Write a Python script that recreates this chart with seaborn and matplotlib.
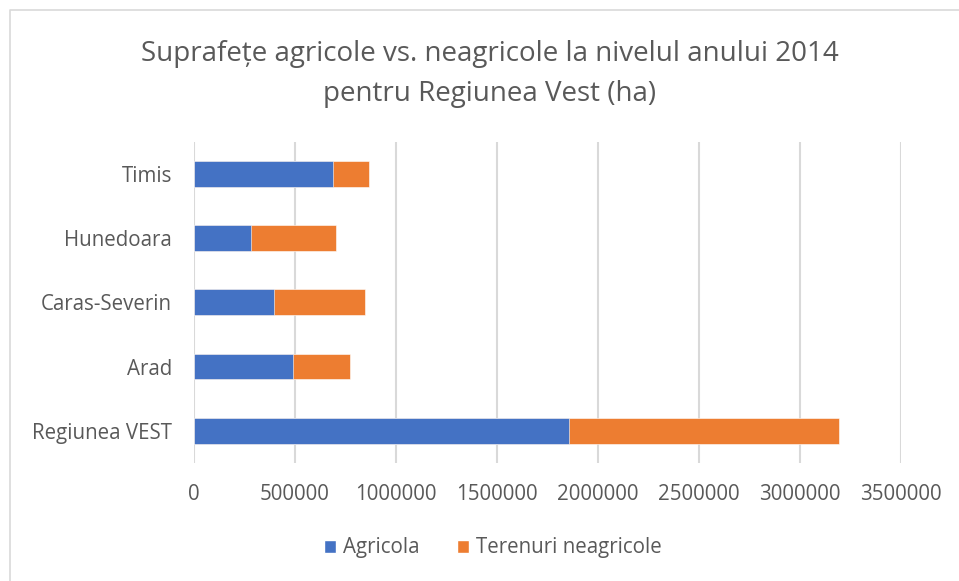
import matplotlib
matplotlib.use("Agg")
import matplotlib.pyplot as plt
from matplotlib.patches import Patch
from matplotlib.lines import Line2D
import pandas as pd
import seaborn as sns

# Land area per county, 2014 (ha)
regions = ["Timis", "Hunedoara", "Caras-Severin", "Arad", "Regiunea VEST"]
agricola = [688000, 282000, 396000, 492000, 1858000]
neagricola = [180000, 421000, 452000, 282000, 1337000]
series_names = ["Agricola", "Terenuri neagricole"]
x_ticks = [0, 500000, 1000000, 1500000, 2000000, 2500000, 3000000, 3500000]

BLUE = "#4472C4"
ORANGE = "#ED7D31"
GREY_TEXT = "#595959"
GRID = "#D9D9D9"

sns.set_theme(style="white")
plt.rcParams["font.family"] = ["Open Sans", "DejaVu Sans"]

df = pd.DataFrame({"Regiune": regions, "Agricola": agricola, "Neagricola": neagricola})
df["Total"] = df["Agricola"] + df["Neagricola"]

W, H = 959, 581
fig = plt.figure(figsize=(W / 100, H / 100), dpi=100)
ax = fig.add_axes([194 / W, 1 - 463 / H, 707 / W, 321.5 / H])

# stacked horizontal bars: total underneath, agricultural part on top
sns.barplot(data=df, y="Regiune", x="Total", color=ORANGE, width=0.4,
            orient="h", ax=ax, saturation=1, edgecolor="white", linewidth=0.4)
sns.barplot(data=df, y="Regiune", x="Agricola", color=BLUE, width=0.4,
            orient="h", ax=ax, saturation=1, edgecolor="white", linewidth=0.4)

ax.set_xlim(0, 3500000)
ax.set_xticks(x_ticks)
ax.set_xticklabels([str(t) for t in x_ticks])
ax.set_xlabel("")
ax.set_ylabel("")
ax.xaxis.grid(True, color=GRID, linewidth=1.5)
ax.set_axisbelow(True)
for s in ax.spines.values():
    s.set_visible(False)
ax.tick_params(axis="x", length=0, pad=15, labelsize=14.8, labelcolor=GREY_TEXT)
ax.tick_params(axis="y", length=0, pad=16, labelsize=14.8, labelcolor=GREY_TEXT)

fig.text(0.511, 1 - 54 / H, "Suprafețe agricole vs. neagricole la nivelul anului 2014",
         ha="center", va="center", fontsize=20, color=GREY_TEXT)
fig.text(0.511, 1 - 94 / H, "pentru Regiunea Vest (ha)",
         ha="center", va="center", fontsize=20, color=GREY_TEXT)

handles = [Patch(facecolor=BLUE, label=series_names[0]),
           Patch(facecolor=ORANGE, label=series_names[1])]
fig.legend(handles=handles, loc="center", bbox_to_anchor=(0.514, 1 - 548 / H),
           ncol=2, frameon=False, fontsize=14.8, labelcolor=GREY_TEXT,
           handlelength=0.6, handleheight=0.6, handletextpad=0.35,
           columnspacing=1.8)

# outer chart-area border along the top and left
fig.add_artist(Line2D([10 / W, 10 / W, 1], [0, 1 - 10 / H, 1 - 10 / H],
                      transform=fig.transFigure, color="#D9D9D9", linewidth=1.2))

fig.savefig("out.png", dpi=100, facecolor="white")
